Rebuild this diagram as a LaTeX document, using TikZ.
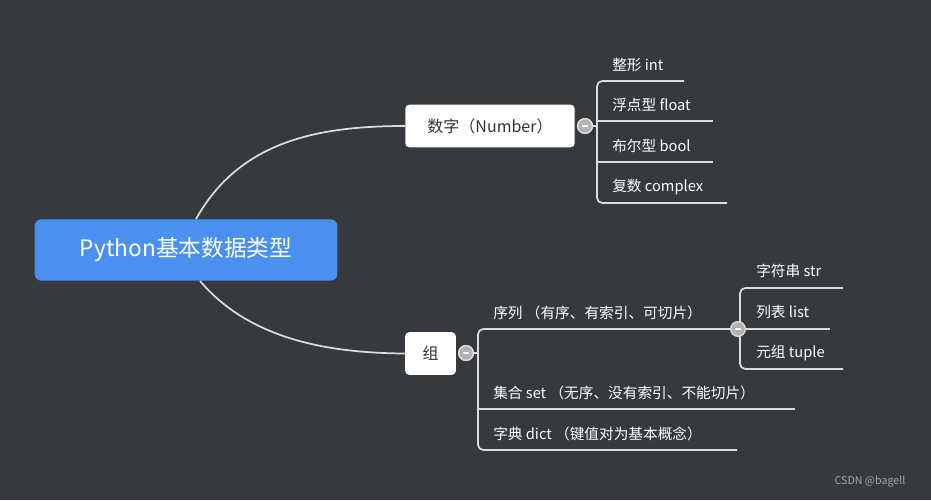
\documentclass[tikz,border=0pt]{standalone}
\usepackage{fontspec}
\setmainfont{Noto Sans CJK SC}
\usetikzlibrary{positioning}
\definecolor{bgdark}{HTML}{36393E}
\definecolor{rootblue}{HTML}{4A90EE}
\definecolor{linegray}{HTML}{DCDCDC}
\tikzset{
  topic/.style={rectangle, fill=white, rounded corners=3pt, text=black!80, font=\fontsize{12}{14}\selectfont, inner sep=0pt},
  leaf/.style={anchor=west, text=white, font=\fontsize{11}{13}\selectfont, inner sep=0pt},
  branch/.style={draw=linegray, line width=1.3pt, rounded corners=4pt},
  fold/.style={circle, draw=linegray, fill=gray!60, line width=1pt, minimum size=11pt, inner sep=0pt},
}
\begin{document}
\begin{tikzpicture}[x=0.75pt, y=-0.75pt]
    \fill[bgdark] (0,0) rectangle (931,500);
    \useasboundingbox (0,0) rectangle (931,500);

    \node [rectangle, fill=rootblue, rounded corners=5pt, minimum width=227pt, minimum height=46pt, text=white, font=\fontsize{17}{20}\selectfont] (root) at (186,250) {Python基本数据类型};
    \node [topic, minimum width=127pt, minimum height=32pt] (number) at (490,126) {数字（Number）};
    \node [topic, minimum width=38pt, minimum height=32pt] (group) at (430.5,353.5) {组};

    \draw [branch] (root.north) ++(10,0) .. controls (240,140) and (320,126) .. (number.west);
    \draw [branch] (root.south) ++(14,0) .. controls (250,340) and (330,353) .. (group.west);

    % number branch
    \node [fold] (fold-number) at (585,126) {};
    \node [leaf] (int) at (612,65) {整形 int};
    \node [leaf] (float) at (612,105) {浮点型 float};
    \node [leaf] (bool) at (612,146) {布尔型 bool};
    \node [leaf] (complex) at (612,187) {复数 complex};
    \coordinate (int-end) at (684,81);
    \coordinate (float-end) at (713,121);
    \coordinate (bool-end) at (713,162);
    \coordinate (complex-end) at (727,203);
    \draw [branch] (int-end) -- (597,81) -- (597,203) -- (complex-end);
    \draw [branch] (597,121) -- (float-end);
    \draw [branch] (597,162) -- (bool-end);
    \draw [branch] (fold-number) -- (597,126);
    \node [fold] at (585,126) {};
    \draw [white, line width=1.2pt] (582,126) -- (588,126);

    % group branch
    \node [fold] (fold-group) at (466,353) {};
    \node [leaf] (seq) at (493,313) {序列 （有序、有索引、可切片）};
    \node [leaf] (set) at (493,393) {集合 set （无序、没有索引、不能切片）};
    \node [leaf] (dict) at (493,434) {字典 dict （键值对为基本概念）};
    \coordinate (set-end) at (795,409);
    \coordinate (dict-end) at (737,450);
    \draw [branch] (738,329) -- (478,329) -- (478,450) -- (dict-end);
    \draw [branch] (478,409) -- (set-end);
    \draw [branch] (fold-group) -- (478,353);
    \node [fold] at (466,353) {};
    \draw [white, line width=1.2pt] (463,353) -- (469,353);

    % sequence branch
    \node [leaf] (str) at (756,271) {字符串 str};
    \node [leaf] (list) at (756,312) {列表 list};
    \node [leaf] (tuple) at (756,353) {元组 tuple};
    \coordinate (str-end) at (843,288);
    \coordinate (list-end) at (830,329);
    \coordinate (tuple-end) at (843,369);
    \draw [branch] (str-end) -- (740,288) -- (740,369) -- (tuple-end);
    \draw [branch] (740,329) -- (list-end);
    \node [fold] (fold-seq) at (738,329) {};
    \draw [white, line width=1.2pt] (735,329) -- (741,329);

    \node [text=gray!70, font=\fontsize{8}{10}\selectfont, inner sep=0pt] (mark) at (870,482) {CSDN @bagell};
\end{tikzpicture}
\end{document}
